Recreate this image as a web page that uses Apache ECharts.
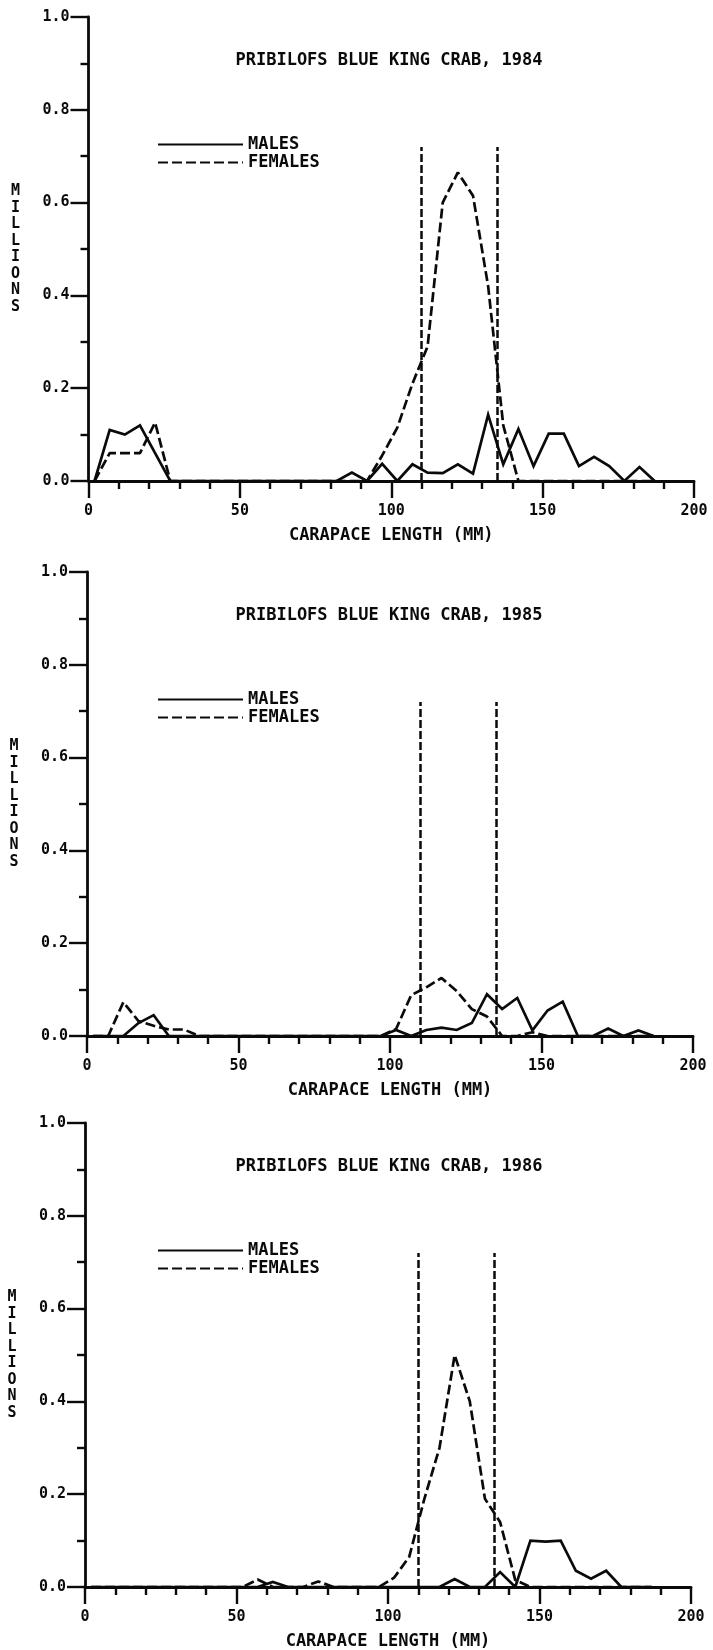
<!DOCTYPE html>
<html>
<head>
<meta charset="utf-8">
<script src="https://cdn.jsdelivr.net/npm/echarts@6/dist/echarts.min.js"></script>
<style>
  html, body { margin: 0; padding: 0; background: #fff; }
  #chart { width: 713px; height: 1650px; }
</style>
</head>
<body>
<div id="chart"></div>
<script>
// Carapace length bin midpoints (mm)
const lengths = [2, 7, 12, 17, 22, 27, 32, 37, 42, 47, 52, 57, 62, 67, 72, 77, 82, 87, 92, 97,
  102, 107, 112, 117, 122, 127, 132, 137, 142, 147, 152, 157, 162, 167, 172, 177, 182, 187];

// 1984 (millions)
const males1984 = [0, 0.11, 0.10, 0.12, 0.06, 0,
  0, 0, 0, 0, 0, 0, 0, 0, 0, 0, 0,
  0.018, 0, 0.037, 0, 0.036, 0.018, 0.017, 0.036, 0.016, 0.143, 0.036, 0.112, 0.032,
  0.102, 0.102, 0.032, 0.052, 0.032, 0, 0.03, 0];
const females1984 = [0, 0.06, 0.06, 0.06, 0.126, 0,
  0, 0, 0, 0, 0, 0, 0, 0, 0, 0, 0, 0, 0,
  0.055, 0.115, 0.21, 0.29, 0.60, 0.665, 0.615, 0.42, 0.12, 0,
  0, 0, 0, 0, 0, 0, 0, 0, 0];

// 1985
const males1985 = [0, 0, 0, 0.028, 0.045, 0,
  0, 0, 0, 0, 0, 0, 0, 0, 0, 0, 0, 0, 0, 0,
  0.013, 0, 0.013, 0.018, 0.013, 0.028, 0.09, 0.058, 0.082, 0.012, 0.055, 0.074,
  0, 0, 0.016, 0, 0.012, 0];
const females1985 = [0, 0, 0.073, 0.032, 0.022, 0.014, 0.014, 0,
  0, 0, 0, 0, 0, 0, 0, 0, 0, 0, 0, 0,
  0.015, 0.088, 0.105, 0.125, 0.097, 0.058, 0.042, 0, 0, 0.008,
  0, 0, 0, 0, 0, 0, 0, 0];

// 1986
const males1986 = [0, 0, 0, 0, 0, 0, 0, 0, 0, 0, 0, 0,
  0.011,
  0, 0, 0, 0, 0, 0, 0, 0, 0, 0, 0,
  0.017, 0, 0, 0.032, 0, 0.1, 0.098, 0.1, 0.035, 0.018, 0.035, 0, 0, 0];
const females1986 = [0, 0, 0, 0, 0, 0, 0, 0, 0, 0, 0,
  0.016, 0, 0, 0, 0.012, 0, 0, 0, 0,
  0.02, 0.065, 0.19, 0.30, 0.50, 0.40, 0.19, 0.14, 0.015,
  0, 0, 0, 0, 0, 0, 0, 0, 0];

const years = ['1984', '1985', '1986'];
const titles = years.map(y => 'PRIBILOFS BLUE KING CRAB, ' + y);
const maleSets = [males1984, males1985, males1986];
const femaleSets = [females1984, females1985, females1986];
const cutoffs = [110, 135];
const cutoffTop = 0.72;
const xTicks = [0, 50, 100, 150, 200];
const yTicks = [0, 0.2, 0.4, 0.6, 0.8, 1.0];

// layout (pixels)
const panels = [
  { left: 88.5, width: 605.5, top: 17, height: 464 },
  { left: 87, width: 606, top: 572, height: 464 },
  { left: 85, width: 606, top: 1123, height: 464 }
];

const FONT = '"DejaVu Sans Mono", "Liberation Mono", monospace';
const INK = '#0a0a0a';

const grid = [], xAxis = [], yAxis = [], series = [], title = [], legend = [];

panels.forEach((p, i) => {
  grid.push({ left: p.left, top: p.top, width: p.width, height: p.height,
    containLabel: false, outerBoundsMode: 'none' });

  xAxis.push({
    type: 'value', gridIndex: i, min: xTicks[0], max: xTicks[xTicks.length - 1], interval: 50,
    axisLine: { show: true, onZero: false, lineStyle: { color: INK, width: 2.8 } },
    axisTick: { show: true, inside: false, length: 17, lineStyle: { color: INK, width: 2.4 } },
    minorTick: { show: true, splitNumber: 5, length: 8, lineStyle: { color: INK, width: 2.4 } },
    splitLine: { show: false }, minorSplitLine: { show: false },
    axisLabel: { show: true, margin: 23, fontSize: 15, fontWeight: 'bold', fontFamily: FONT, color: INK,
      showMinLabel: true, showMaxLabel: true },
    name: 'CARAPACE LENGTH (MM)', nameLocation: 'middle', nameGap: 46,
    nameTextStyle: { fontSize: 17, fontWeight: 'bold', fontFamily: FONT, color: INK }
  });

  yAxis.push({
    type: 'value', gridIndex: i, min: yTicks[0], max: yTicks[yTicks.length - 1], interval: 0.2,
    axisLine: { show: true, onZero: false, lineStyle: { color: INK, width: 2.8 } },
    axisTick: { show: true, inside: false, length: 18, lineStyle: { color: INK, width: 2.4 } },
    minorTick: { show: true, splitNumber: 2, length: 8, lineStyle: { color: INK, width: 2.4 } },
    splitLine: { show: false }, minorSplitLine: { show: false },
    axisLabel: { show: true, margin: 19, fontSize: 15, fontWeight: 'bold', fontFamily: FONT, color: INK,
      formatter: v => v.toFixed(1), showMinLabel: true, showMaxLabel: true },
    name: 'MILLIONS'.split('').join('\n'), nameLocation: 'middle', nameRotate: 0, nameGap: 73,
    nameTextStyle: { fontSize: 15, fontWeight: 'bold', fontFamily: FONT, color: INK,
      lineHeight: 16.5, align: 'center', verticalAlign: 'middle' }
  });

  title.push({
    text: titles[i], left: 389, top: p.top + 35, textAlign: 'center', padding: 0,
    textStyle: { fontSize: 17, fontWeight: 'bold', fontFamily: FONT, color: INK }
  });

  legend.push({
    data: ['MALES', 'FEMALES'], orient: 'vertical', left: 157, top: p.top + 119, padding: 0,
    itemWidth: 85, itemHeight: 14, itemGap: 1, selectedMode: false,
    itemStyle: { color: 'rgba(0,0,0,0)', borderWidth: 0, opacity: 0 },
    textStyle: { fontSize: 17, lineHeight: 17, fontWeight: 'bold', fontFamily: FONT, color: INK }
  });

  series.push({
    name: 'MALES', type: 'line', xAxisIndex: i, yAxisIndex: i,
    data: lengths.map((x, k) => [x, maleSets[i][k]]),
    symbol: 'none', showSymbol: false, smooth: false, z: 3,
    itemStyle: { color: INK },
    lineStyle: { color: INK, width: 2.7, type: 'solid', join: 'miter' }
  });
  series.push({
    name: 'FEMALES', type: 'line', xAxisIndex: i, yAxisIndex: i,
    data: lengths.map((x, k) => [x, femaleSets[i][k]]),
    symbol: 'none', showSymbol: false, smooth: false, z: 3,
    itemStyle: { color: INK },
    lineStyle: { color: INK, width: 2.7, type: [10, 4] },
    markLine: {
      silent: true, symbol: 'none', animation: false,
      label: { show: false },
      lineStyle: { color: INK, width: 2.5, type: [8, 3] },
      emphasis: { disabled: true },
      data: cutoffs.map(c => [{ coord: [c, 0] }, { coord: [c, cutoffTop] }])
    }
  });
});

const chart = echarts.init(document.getElementById('chart'), null, { renderer: 'canvas' });
chart.setOption({
  backgroundColor: '#ffffff',
  animation: false,
  title, legend, grid, xAxis, yAxis, series
});
</script>
</body>
</html>
